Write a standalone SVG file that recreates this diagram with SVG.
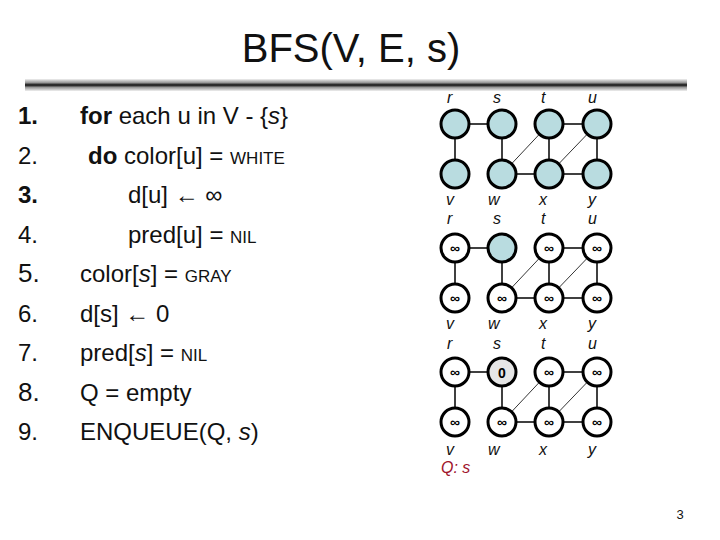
<svg xmlns="http://www.w3.org/2000/svg" width="720" height="540" viewBox="0 0 720 540">
<defs>
<linearGradient id="bar" x1="0" y1="0" x2="0" y2="1">
<stop offset="0" stop-color="#f0f0f0"/>
<stop offset="0.3" stop-color="#999"/>
<stop offset="0.5" stop-color="#111"/>
<stop offset="0.7" stop-color="#999"/>
<stop offset="1" stop-color="#f0f0f0"/>
</linearGradient>
</defs>
<style>
.t{font-family:"Liberation Sans",Arial,sans-serif;fill:#111}
.code{font-size:24px}
.sc{font-size:17px}
.b{font-weight:bold}
.i{font-style:italic}
.lbl{font-family:"Liberation Sans",Arial,sans-serif;font-size:16px;font-style:italic;fill:#111}
.n{stroke:#000;stroke-width:3}
.blue{fill:#b9dce0}
.white{fill:#fff}
.gray{fill:#e6e6e6}
.e{stroke:#000;stroke-width:1.5;fill:none}
.d{stroke:#000;stroke-width:0.8;fill:none}
.v{font-family:"Liberation Sans",Arial,sans-serif;font-size:14px;font-weight:bold;text-anchor:middle;fill:#000}
</style>
<rect width="720" height="540" fill="#fff"/>
<text class="t" x="351" y="62" font-size="40" text-anchor="middle">BFS(V, E, s)</text>
<rect x="25" y="79" width="662" height="12" fill="url(#bar)"/>

<g id="code" class="t code">
<text x="18" y="124" class="b">1.</text><text x="80" y="124"><tspan class="b">for</tspan> each u in V - {<tspan class="i">s</tspan>}</text>
<text x="18" y="164">2.</text><text x="88" y="164"><tspan class="b">do</tspan> color[u] = <tspan class="sc">WHITE</tspan></text>
<text x="18" y="203" class="b">3.</text><text x="128" y="203">d[u] ← ∞</text>
<text x="18" y="243">4.</text><text x="128" y="243">pred[u] = <tspan class="sc">NIL</tspan></text>
<text x="18" y="282" font-size="26">5.</text><text x="80" y="282">color[<tspan class="i">s</tspan>] = <tspan class="sc">GRAY</tspan></text>
<text x="18" y="322">6.</text><text x="80" y="322">d[s] ← 0</text>
<text x="18" y="361">7.</text><text x="80" y="361">pred[<tspan class="i">s</tspan>] = <tspan class="sc">NIL</tspan></text>
<text x="18" y="401" font-size="26">8.</text><text x="80" y="401">Q = empty</text>
<text x="18" y="440">9.</text><text x="80" y="440">ENQUEUE(Q, <tspan class="i">s</tspan>)</text>
</g>

<!-- Graph 1 -->
<g id="edges1">
<line class="e" x1="455" y1="124" x2="502" y2="124"/>
<line class="e" x1="549" y1="124" x2="597" y2="124"/>
<line class="e" x1="502" y1="174" x2="549" y2="174"/>
<line class="e" x1="549" y1="174" x2="597" y2="174"/>
<line class="e" x1="455" y1="124" x2="455" y2="174"/>
<line class="e" x1="502" y1="124" x2="502" y2="174"/>
<line class="e" x1="549" y1="124" x2="549" y2="174"/>
<line class="e" x1="597" y1="124" x2="597" y2="174"/>
<line class="d" x1="502" y1="174" x2="549" y2="124"/>
<line class="d" x1="549" y1="174" x2="597" y2="124"/>
</g>
<g id="g1-r"><circle class="n blue" cx="455" cy="124" r="14"/></g>
<g id="g1-s"><circle class="n blue" cx="502" cy="124" r="14"/></g>
<g id="g1-t"><circle class="n blue" cx="549" cy="124" r="14"/></g>
<g id="g1-u"><circle class="n blue" cx="597" cy="124" r="14"/></g>
<g id="g1-v"><circle class="n blue" cx="455" cy="174" r="14"/></g>
<g id="g1-w"><circle class="n blue" cx="502" cy="174" r="14"/></g>
<g id="g1-x"><circle class="n blue" cx="549" cy="174" r="14"/></g>
<g id="g1-y"><circle class="n blue" cx="597" cy="174" r="14"/></g>
<g id="labels1">
<text class="lbl" x="447" y="103">r</text><text class="lbl" x="493" y="103">s</text><text class="lbl" x="541" y="103">t</text><text class="lbl" x="588" y="103">u</text>
<text class="lbl" x="446" y="205">v</text><text class="lbl" x="488" y="205">w</text><text class="lbl" x="539" y="205">x</text><text class="lbl" x="588" y="205">y</text>
<text class="lbl" x="447" y="224">r</text><text class="lbl" x="493" y="224">s</text><text class="lbl" x="541" y="224">t</text><text class="lbl" x="588" y="224">u</text>
</g>

<!-- Graph 2 -->
<g id="edges2">
<line class="e" x1="455" y1="248" x2="502" y2="248"/>
<line class="e" x1="549" y1="248" x2="597" y2="248"/>
<line class="e" x1="502" y1="298" x2="549" y2="298"/>
<line class="e" x1="549" y1="298" x2="597" y2="298"/>
<line class="e" x1="455" y1="248" x2="455" y2="298"/>
<line class="e" x1="502" y1="248" x2="502" y2="298"/>
<line class="e" x1="549" y1="248" x2="549" y2="298"/>
<line class="e" x1="597" y1="248" x2="597" y2="298"/>
<line class="d" x1="502" y1="298" x2="549" y2="248"/>
<line class="d" x1="549" y1="298" x2="597" y2="248"/>
</g>
<g id="g2-r"><circle class="n white" cx="455" cy="248" r="14"/><text class="v" x="455" y="253">∞</text></g>
<g id="g2-s"><circle class="n blue" cx="502" cy="248" r="14"/></g>
<g id="g2-t"><circle class="n white" cx="549" cy="248" r="14"/><text class="v" x="549" y="253">∞</text></g>
<g id="g2-u"><circle class="n white" cx="597" cy="248" r="14"/><text class="v" x="597" y="253">∞</text></g>
<g id="g2-v"><circle class="n white" cx="455" cy="298" r="14"/><text class="v" x="455" y="303">∞</text></g>
<g id="g2-w"><circle class="n white" cx="502" cy="298" r="14"/><text class="v" x="502" y="303">∞</text></g>
<g id="g2-x"><circle class="n white" cx="549" cy="298" r="14"/><text class="v" x="549" y="303">∞</text></g>
<g id="g2-y"><circle class="n white" cx="597" cy="298" r="14"/><text class="v" x="597" y="303">∞</text></g>
<g id="labels2">
<text class="lbl" x="446" y="329">v</text><text class="lbl" x="488" y="329">w</text><text class="lbl" x="539" y="329">x</text><text class="lbl" x="588" y="329">y</text>
<text class="lbl" x="447" y="349">r</text><text class="lbl" x="493" y="349">s</text><text class="lbl" x="541" y="349">t</text><text class="lbl" x="588" y="349">u</text>
</g>

<!-- Graph 3 -->
<g id="edges3">
<line class="e" x1="455" y1="372" x2="502" y2="372"/>
<line class="e" x1="549" y1="372" x2="597" y2="372"/>
<line class="e" x1="502" y1="422" x2="549" y2="422"/>
<line class="e" x1="549" y1="422" x2="597" y2="422"/>
<line class="e" x1="455" y1="372" x2="455" y2="422"/>
<line class="e" x1="502" y1="372" x2="502" y2="422"/>
<line class="e" x1="549" y1="372" x2="549" y2="422"/>
<line class="e" x1="597" y1="372" x2="597" y2="422"/>
<line class="d" x1="502" y1="422" x2="549" y2="372"/>
<line class="d" x1="549" y1="422" x2="597" y2="372"/>
</g>
<g id="g3-r"><circle class="n white" cx="455" cy="372" r="14"/><text class="v" x="455" y="377">∞</text></g>
<g id="g3-s"><circle class="n gray" cx="502" cy="372" r="14"/><text class="v" x="502" y="378" font-weight="normal" font-size="16">0</text></g>
<g id="g3-t"><circle class="n white" cx="549" cy="372" r="14"/><text class="v" x="549" y="377">∞</text></g>
<g id="g3-u"><circle class="n white" cx="597" cy="372" r="14"/><text class="v" x="597" y="377">∞</text></g>
<g id="g3-v"><circle class="n white" cx="455" cy="422" r="14"/><text class="v" x="455" y="427">∞</text></g>
<g id="g3-w"><circle class="n white" cx="502" cy="422" r="14"/><text class="v" x="502" y="427">∞</text></g>
<g id="g3-x"><circle class="n white" cx="549" cy="422" r="14"/><text class="v" x="549" y="427">∞</text></g>
<g id="g3-y"><circle class="n white" cx="597" cy="422" r="14"/><text class="v" x="597" y="427">∞</text></g>
<g id="labels3">
<text class="lbl" x="446" y="455">v</text><text class="lbl" x="488" y="455">w</text><text class="lbl" x="539" y="455">x</text><text class="lbl" x="588" y="455">y</text>
<text class="lbl" x="441" y="473" fill="#a0142c" style="fill:#a0142c">Q: s</text>
</g>

<text class="t" x="680" y="519" font-size="13" text-anchor="middle">3</text>
</svg>
